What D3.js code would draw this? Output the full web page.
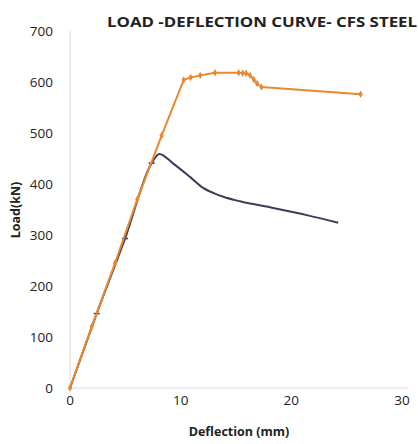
<!DOCTYPE html>
<html>
<head>
<meta charset="utf-8">
<script src="https://cdn.jsdelivr.net/npm/d3@7"></script>
<style>
  body { margin: 0; background: #fff; }
  text { font-family: "Open Sans", "DejaVu Sans", sans-serif; fill: #222; }
</style>
</head>
<body>
<svg id="chart"></svg>
<script>
let width = 418, height = 444

// orange series (with markers)
let cfsX = [0, 1.96, 4.07, 6.08, 8.28, 10.27, 10.9, 11.77, 13.1, 15.24, 15.6, 15.9, 16.26, 16.6, 16.9, 17.3, 26.26]
let cfsY = [0, 120, 245, 370, 495, 604, 609, 613, 618, 618, 617, 617, 613, 605, 597, 590, 576]

// dark series
let steelX = [0, 2.41, 4.97, 7.38, 8.07, 9.33, 10.84, 12.0, 13.1, 13.85, 15.36, 18.37, 21.4, 24.24]
let steelY = [0, 146, 293, 441, 459, 440, 414, 393, 381, 375, 366, 353, 339, 324]

let xTicks = [0, 10, 20, 30]
let yTicks = [0, 100, 200, 300, 400, 500, 600, 700]

let svg = d3.select("#chart").attr("width", width).attr("height", height)

let x = d3.scaleLinear().domain([0, 30]).range([70, 402])
let y = d3.scaleLinear().domain([0, 700]).range([388, 31])

// axis lines
svg.append("line")
    .attr("x1", x(0)).attr("x2", x(0)).attr("y1", y(700)).attr("y2", y(0))
    .attr("stroke", "#d9d9d9").attr("stroke-width", 1)
svg.append("line")
    .attr("x1", x(0)).attr("x2", 408).attr("y1", y(0)).attr("y2", y(0))
    .attr("stroke", "#d9d9d9").attr("stroke-width", 1)

svg.selectAll(".ytick")
    .data(yTicks)
    .enter()
    .append("text")
    .attr("class", "ytick")
    .attr("x", 53)
    .attr("y", d => y(d))
    .attr("dy", "0.35em")
    .attr("text-anchor", "end")
    .attr("font-size", 13.5)
    .text(d => d)

svg.selectAll(".xtick")
    .data(xTicks)
    .enter()
    .append("text")
    .attr("class", "xtick")
    .attr("x", d => x(d))
    .attr("y", 405)
    .attr("text-anchor", "middle")
    .attr("font-size", 13.5)
    .text(d => d)

svg.append("text")
    .attr("x", 239).attr("y", 436)
    .attr("text-anchor", "middle")
    .attr("font-size", 12.5).attr("font-weight", "bold")
    .text("Deflection (mm)")

svg.append("text")
    .attr("transform", "translate(20,210) rotate(-90)")
    .attr("text-anchor", "middle")
    .attr("font-size", 12.5).attr("font-weight", "bold")
    .text("Load(kN)")

svg.append("text")
    .attr("x", 107).attr("y", 27)
    .attr("font-size", 15).attr("font-weight", "bold")
    .attr("textLength", 310).attr("lengthAdjust", "spacingAndGlyphs")
    .text("LOAD -DEFLECTION CURVE- CFS STEEL")

let steel = steelX.map((d, i) => [d, steelY[i]])
let cfs = cfsX.map((d, i) => [d, cfsY[i]])

let line = d3.line().x(d => x(d[0])).y(d => y(d[1]))

svg.append("path")
    .attr("d", line.curve(d3.curveMonotoneX)(steel))
    .attr("fill", "none").attr("stroke", "#3d3b5e").attr("stroke-width", 2)

// small ticks on the straight part of the dark curve
svg.selectAll(".smark")
    .data(steel.slice(1, 4))
    .enter()
    .append("line")
    .attr("class", "smark")
    .attr("x1", d => x(d[0]) - 3).attr("x2", d => x(d[0]) + 3)
    .attr("y1", d => y(d[1])).attr("y2", d => y(d[1]))
    .attr("stroke", "#3d3b5e").attr("stroke-width", 1.5)

svg.append("path")
    .attr("d", line.curve(d3.curveLinear)(cfs))
    .attr("fill", "none").attr("stroke", "#e8892e").attr("stroke-width", 2)

svg.selectAll(".mark")
    .data(cfs)
    .enter()
    .append("path")
    .attr("class", "mark")
    .attr("transform", d => `translate(${x(d[0])},${y(d[1])})`)
    .attr("d", d3.symbol(d3.symbolDiamond, 16))
    .attr("fill", "#e8892e")
</script>
</body>
</html>
